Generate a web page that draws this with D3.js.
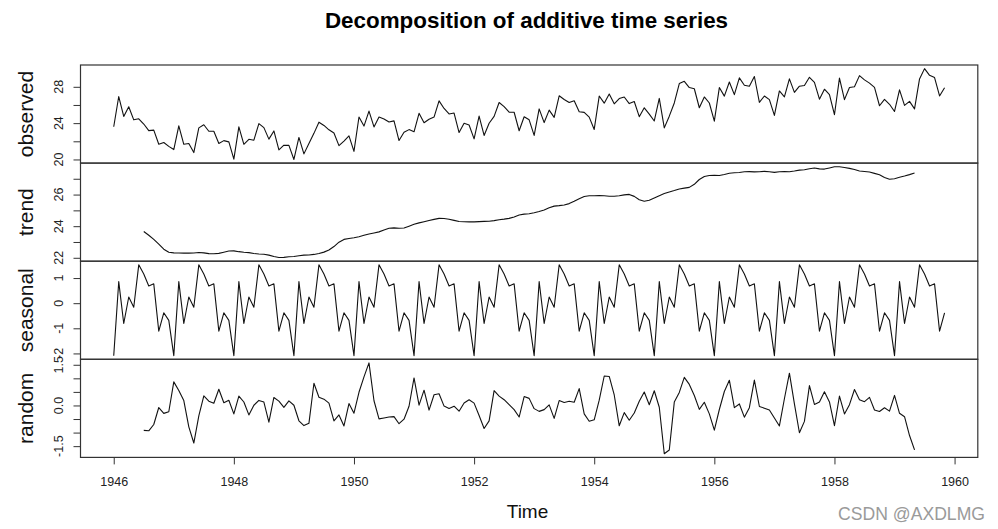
<!DOCTYPE html>
<html><head><meta charset="utf-8">
<script src="https://cdn.jsdelivr.net/npm/d3@7"></script>
<style>body{margin:0;background:#fff}svg{display:block}</style>
</head><body>
<svg id="c" width="998" height="529"></svg>
<script>
// monthly series, start 1946 (Jan), frequency 12
const startYear = 1946;
const frequency = 12;

const observed = [
23.598,26.931,24.740,25.806,24.364,24.477,23.901,23.175,23.227,21.672,21.870,21.439,
21.089,23.709,21.669,21.752,20.761,23.479,23.824,23.105,23.110,21.759,22.073,21.937,
20.035,23.590,21.672,22.222,22.123,23.950,23.504,22.238,23.142,21.059,21.573,21.548,
20.000,22.424,20.615,21.761,22.874,24.104,23.748,23.262,22.907,21.519,22.025,22.604,
20.894,24.677,23.673,25.320,23.583,24.671,24.454,24.122,24.252,22.084,22.991,23.287,
23.049,25.076,24.037,24.430,24.667,26.451,25.618,25.014,25.110,22.964,23.981,23.798,
22.270,24.775,22.646,23.988,24.737,26.276,25.816,25.210,25.199,23.162,24.707,24.364,
22.644,25.565,24.062,25.431,24.635,27.009,26.606,26.268,26.462,25.246,25.180,24.657,
23.304,26.982,26.199,27.210,26.122,26.706,26.878,26.152,26.379,24.712,25.688,24.990,
24.239,26.721,23.475,24.767,26.219,28.361,28.599,27.914,27.784,25.693,26.881,26.217,
24.218,27.914,26.975,28.527,27.139,28.982,28.169,28.056,29.136,26.291,26.987,26.589,
24.848,27.543,26.896,28.878,27.390,28.065,28.141,29.048,28.484,26.634,27.735,27.132,
24.924,28.963,26.589,27.931,28.009,29.229,28.759,28.405,27.945,25.912,26.619,26.076,
25.286,27.660,25.951,26.398,25.565,28.865,30.000,29.261,29.012,26.992,27.897
];

const trend = [
null,null,null,null,null,null,23.662,23.423,23.161,22.864,22.545,22.354,
22.309,22.303,22.295,22.294,22.306,22.335,22.312,22.263,22.258,22.278,22.354,22.430,
22.437,22.387,22.352,22.325,22.275,22.238,22.220,22.170,22.077,22.014,22.026,22.064,
22.080,22.133,22.166,22.175,22.213,22.276,22.358,22.489,22.710,22.986,23.163,23.217,
23.270,23.335,23.427,23.506,23.570,23.639,23.757,23.864,23.895,23.873,23.882,24.001,
24.124,24.209,24.282,24.355,24.432,24.495,24.484,24.439,24.368,24.292,24.276,24.272,
24.273,24.289,24.301,24.313,24.352,24.406,24.445,24.493,24.585,24.704,24.760,24.786,
24.850,24.927,25.024,25.163,25.270,25.302,25.341,25.428,25.576,25.739,25.875,25.924,
25.923,25.930,25.921,25.896,25.895,25.930,25.982,26.011,25.886,25.671,25.573,25.646,
25.787,25.932,26.064,26.163,26.254,26.355,26.405,26.454,26.649,26.952,27.147,27.211,
27.219,27.207,27.269,27.351,27.380,27.400,27.442,27.452,27.434,27.445,27.470,27.442,
27.403,27.443,27.457,27.444,27.490,27.544,27.569,27.632,27.678,27.626,27.612,27.686,
27.761,27.760,27.710,27.658,27.581,27.491,27.462,27.423,27.342,27.251,27.086,26.969,
27.005,27.093,27.173,27.262,27.360,null,null,null,null,null,null
];

const seasonal = [
-2.089,0.856,-0.808,0.245,-0.160,1.526,1.158,0.685,0.769,-1.116,-0.383,-0.684,
-2.089,0.856,-0.808,0.245,-0.160,1.526,1.158,0.685,0.769,-1.116,-0.383,-0.684,
-2.089,0.856,-0.808,0.245,-0.160,1.526,1.158,0.685,0.769,-1.116,-0.383,-0.684,
-2.089,0.856,-0.808,0.245,-0.160,1.526,1.158,0.685,0.769,-1.116,-0.383,-0.684,
-2.089,0.856,-0.808,0.245,-0.160,1.526,1.158,0.685,0.769,-1.116,-0.383,-0.684,
-2.089,0.856,-0.808,0.245,-0.160,1.526,1.158,0.685,0.769,-1.116,-0.383,-0.684,
-2.089,0.856,-0.808,0.245,-0.160,1.526,1.158,0.685,0.769,-1.116,-0.383,-0.684,
-2.089,0.856,-0.808,0.245,-0.160,1.526,1.158,0.685,0.769,-1.116,-0.383,-0.684,
-2.089,0.856,-0.808,0.245,-0.160,1.526,1.158,0.685,0.769,-1.116,-0.383,-0.684,
-2.089,0.856,-0.808,0.245,-0.160,1.526,1.158,0.685,0.769,-1.116,-0.383,-0.684,
-2.089,0.856,-0.808,0.245,-0.160,1.526,1.158,0.685,0.769,-1.116,-0.383,-0.684,
-2.089,0.856,-0.808,0.245,-0.160,1.526,1.158,0.685,0.769,-1.116,-0.383,-0.684,
-2.089,0.856,-0.808,0.245,-0.160,1.526,1.158,0.685,0.769,-1.116,-0.383,-0.684,
-2.089,0.856,-0.808,0.245,-0.160,1.526,1.158,0.685,0.769,-1.116,-0.383
];

const random = [
null,null,null,null,null,null,-0.919,-0.934,-0.703,-0.076,-0.292,-0.231,
0.870,0.550,0.182,-0.787,-1.385,-0.382,0.354,0.157,0.083,0.598,0.102,0.190,
-0.312,0.347,0.128,-0.348,0.008,0.186,0.126,-0.617,0.296,0.161,-0.070,0.168,
0.009,-0.565,-0.743,-0.660,0.820,0.301,0.232,0.088,-0.572,-0.350,-0.755,0.071,
-0.286,0.486,1.054,1.568,0.173,-0.494,-0.461,-0.427,-0.412,-0.673,-0.507,-0.030,
1.015,0.011,0.563,-0.170,0.394,0.430,-0.024,-0.110,-0.027,-0.212,0.088,0.210,
0.086,-0.371,-0.847,-0.570,0.545,0.344,0.213,0.032,-0.155,-0.426,0.330,0.261,
-0.117,-0.218,-0.154,0.023,-0.475,0.181,0.107,0.155,0.117,0.623,-0.312,-0.584,
-0.530,0.196,1.086,1.069,0.387,-0.750,-0.263,-0.544,-0.276,0.157,0.498,0.028,
0.542,-0.067,-1.781,-1.642,0.125,0.480,1.036,0.775,0.366,-0.143,0.118,-0.310,
-0.912,-0.149,0.514,0.931,-0.081,0.056,-0.431,-0.082,0.934,-0.038,-0.100,-0.170,
-0.465,-0.756,0.247,1.189,0.060,-1.005,-0.587,0.731,0.037,0.124,0.506,0.129,
-0.747,0.347,-0.313,0.028,0.587,0.212,0.139,0.297,-0.166,-0.223,-0.083,-0.209,
0.370,-0.289,-0.414,-1.109,-1.636,null,null,null,null,null,null
];

const panelNames = ["observed", "trend", "seasonal", "random"];
const yTicks = {
  observed: [20, 22, 24, 26, 28],
  trend: [22, 23, 24, 25, 26, 27],
  seasonal: [-2, -1, 0, 1],
  random: [-1.5, -1, -0.5, 0, 0.5, 1, 1.5]
};
const yTickLabels = {
  observed: {"20": "20", "24": "24", "28": "28"},
  trend: {"22": "22", "24": "24", "26": "26"},
  seasonal: {"-2": "-2", "-1": "-1", "0": "0", "1": "1"},
  random: {"-1.5": "-1.5", "0": "0.0", "1.5": "1.5"}
};
const xTicks = [1946, 1948, 1950, 1952, 1954, 1956, 1958, 1960];
const titleText = "Decomposition of additive time series";
const xLabel = "Time";
const watermark = "CSDN @AXDLMG";

// ---------- drawing ----------
const svg = d3.select("#c");
const FONT = "'Liberation Sans', Arial, Helvetica, sans-serif";
const left = 80.5, right = 977.8, top0 = 65, ph = 98.1;
const seriesList = [observed, trend, seasonal, random];

const times = observed.map((_, i) => startYear + i / frequency);
const [t0, t1] = d3.extent(times);
const xpad = (t1 - t0) * 0.04;
const x = d3.scaleLinear().domain([t0 - xpad, t1 + xpad]).range([left, right]);

svg.append("text")
  .attr("x", 526.5).attr("y", 28.3)
  .attr("text-anchor", "middle")
  .attr("font-family", FONT).attr("font-weight", "bold").attr("font-size", 22.4)
  .attr("fill", "#000")
  .text(titleText);

seriesList.forEach((vals, k) => {
  const name = panelNames[k];
  const y0 = top0 + k * ph, y1 = y0 + ph;
  const [lo, hi] = d3.extent(vals.filter(v => v != null));
  const p = (hi - lo) * 0.04;
  const y = d3.scaleLinear().domain([lo - p, hi + p]).range([y1, y0]);

  const line = d3.line()
    .defined(d => d != null)
    .x((d, i) => x(times[i]))
    .y(d => y(d));
  svg.append("path")
    .datum(vals)
    .attr("d", line)
    .attr("fill", "none")
    .attr("stroke", "#111")
    .attr("stroke-width", 1.1)
    .attr("stroke-linejoin", "round");

  const ax = svg.append("g")
    .attr("transform", `translate(${left},0)`)
    .call(d3.axisLeft(y).tickValues(yTicks[name]).tickSize(7).tickFormat(() => ""));
  ax.select(".domain").remove();
  ax.selectAll(".tick line").attr("stroke", "#333");

  yTicks[name].forEach(v => {
    const lab = yTickLabels[name][String(v)];
    if (!lab) return;
    svg.append("text")
      .attr("transform", `translate(63,${y(v)}) rotate(-90)`)
      .attr("text-anchor", "middle")
      .attr("font-family", FONT).attr("font-size", 12.5)
      .attr("fill", "#222")
      .text(lab);
  });

  svg.append("text")
    .attr("transform", `translate(33,${(y0 + y1) / 2}) rotate(-90)`)
    .attr("text-anchor", "middle")
    .attr("font-family", FONT).attr("font-size", 21)
    .attr("fill", "#111")
    .text(name);

  svg.append("rect")
    .attr("x", left).attr("y", y0)
    .attr("width", right - left).attr("height", ph)
    .attr("fill", "none").attr("stroke", "#333").attr("stroke-width", 1.2);
});

const bottom = top0 + 4 * ph;
const xa = svg.append("g")
  .attr("transform", `translate(0,${bottom})`)
  .call(d3.axisBottom(x).tickValues(xTicks).tickSize(7).tickPadding(12.5).tickFormat(d3.format("d")));
xa.select(".domain").remove();
xa.selectAll(".tick line").attr("stroke", "#333");
xa.selectAll(".tick text").attr("font-family", FONT).attr("font-size", 12.5).attr("fill", "#222");

svg.append("text")
  .attr("x", 527.5).attr("y", 518)
  .attr("text-anchor", "middle")
  .attr("font-family", FONT).attr("font-size", 19)
  .attr("fill", "#111")
  .text(xLabel);

svg.append("text")
  .attr("x", 985).attr("y", 520)
  .attr("text-anchor", "end")
  .attr("font-family", FONT).attr("font-size", 17.6)
  .attr("fill", "#9a9a9a")
  .text(watermark);
</script>
</body></html>
